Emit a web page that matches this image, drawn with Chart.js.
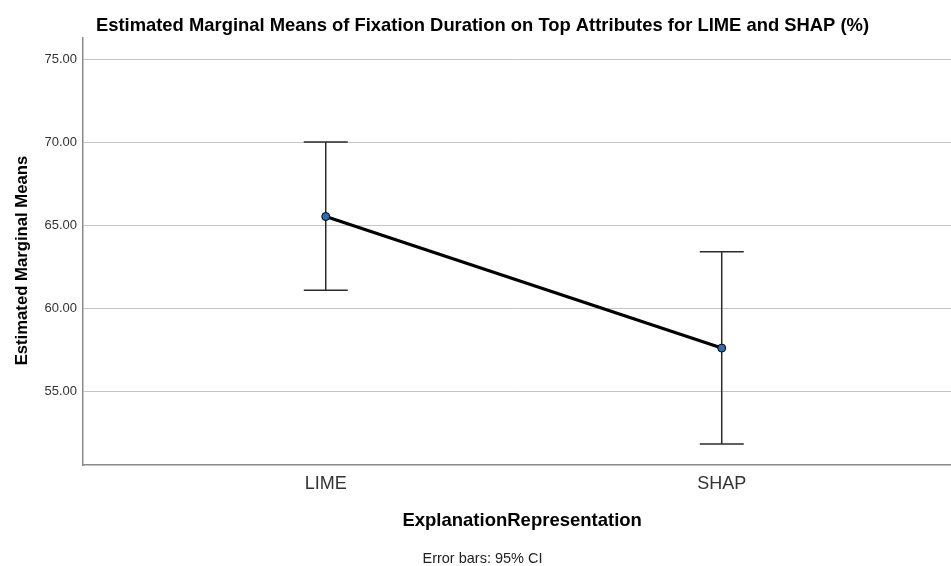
<!DOCTYPE html>
<html>
<head>
<meta charset="utf-8">
<script src="https://cdn.jsdelivr.net/npm/chart.js@4/dist/chart.umd.min.js"></script>
<style>
  html, body { margin: 0; padding: 0; background: #ffffff; }
  #wrap { width: 951px; height: 566px; }
</style>
</head>
<body>
<div id="wrap"><canvas id="c" width="951" height="566"></canvas></div>
<script>
// Estimated marginal means per explanation representation, with 95% CI bounds
const categories = ['LIME', 'SHAP'];
const means = [65.54, 57.63];
const ciLower = [61.10, 51.87];
const ciUpper = [70.02, 63.42];
const yTicks = [55, 60, 65, 70, 75];

const FONT = "'Liberation Sans', Arial, sans-serif";

// Draws vertical CI whiskers with horizontal caps behind the mean line
const errorBars = {
  id: 'errorBars',
  beforeDatasetsDraw(chart) {
    const { ctx, scales: { x, y } } = chart;
    const cap = 22;
    ctx.save();
    ctx.strokeStyle = '#2b2b2b';
    ctx.lineWidth = 1.5;
    categories.forEach((_, i) => {
      const px = x.getPixelForValue(i);
      const top = y.getPixelForValue(ciUpper[i]);
      const bot = y.getPixelForValue(ciLower[i]);
      ctx.beginPath();
      ctx.moveTo(px, top); ctx.lineTo(px, bot);
      ctx.moveTo(px - cap, top); ctx.lineTo(px + cap, top);
      ctx.moveTo(px - cap, bot); ctx.lineTo(px + cap, bot);
      ctx.stroke();
    });
    ctx.restore();
  }
};

new Chart(document.getElementById('c'), {
  type: 'line',
  data: {
    datasets: [{
      data: means.map((m, i) => ({ x: i, y: m })),
      borderColor: '#000000',
      borderWidth: 3.2,
      pointRadius: 4,
      pointBackgroundColor: '#2a6fb3',
      pointBorderColor: '#000000',
      pointBorderWidth: 1,
      tension: 0
    }]
  },
  options: {
    responsive: false,
    animation: false,
    layout: { autoPadding: false, padding: { left: 14, right: 0, top: 0, bottom: 0 } },
    plugins: {
      legend: { display: false },
      tooltip: { enabled: false },
      title: {
        display: true,
        text: 'Estimated Marginal Means of Fixation Duration on Top Attributes for LIME and SHAP (%)',
        color: '#000000',
        font: { family: FONT, size: 18.4, weight: 'bold', lineHeight: 1.2 },
        padding: { top: 15, bottom: 0.5 }
      },
      subtitle: {
        display: true,
        position: 'bottom',
        text: 'Error bars: 95% CI',
        color: '#222222',
        font: { family: FONT, size: 14.5, lineHeight: 1.2 },
        padding: { top: 10.6, bottom: -2 }
      }
    },
    scales: {
      x: {
        type: 'linear',
        min: -0.613,
        max: 1.579,
        afterBuildTicks(scale) {
          scale.ticks = categories.map((_, i) => ({ value: i }));
        },
        afterFit(scale) {
          scale.height = 75;
          scale.paddingLeft = 0;
          scale.paddingRight = 0;
        },
        ticks: {
          callback: (v) => categories[v] ?? '',
          color: '#333333',
          font: { family: FONT, size: 18 },
          padding: 8,
          maxRotation: 0
        },
        grid: { display: false, drawTicks: false },
        border: { display: true, color: '#8a8a8a', width: 1.5 },
        title: {
          display: true,
          text: '  ExplanationRepresentation',
          color: '#000000',
          font: { family: FONT, size: 18.5, weight: 'bold', lineHeight: 1.2 },
          padding: { top: 0, bottom: 8 }
        }
      },
      y: {
        min: 50.6,
        max: 76.3,
        afterBuildTicks(scale) {
          scale.ticks = yTicks.map(v => ({ value: v }));
        },
        afterFit(scale) { scale.width = 69; },
        ticks: {
          callback: (v) => Number(v).toFixed(2),
          color: '#333333',
          font: { family: FONT, size: 13 },
          padding: 6
        },
        grid: { color: '#c4c4c4', lineWidth: 1, drawTicks: false },
        border: { display: true, color: '#8a8a8a', width: 1.5 },
        title: {
          display: true,
          text: 'Estimated Marginal Means    ',
          color: '#000000',
          font: { family: FONT, size: 16.7, weight: 'bold', lineHeight: 1 },
          padding: { top: 0, bottom: 0 }
        }
      }
    }
  },
  plugins: [errorBars]
});
</script>
</body>
</html>
